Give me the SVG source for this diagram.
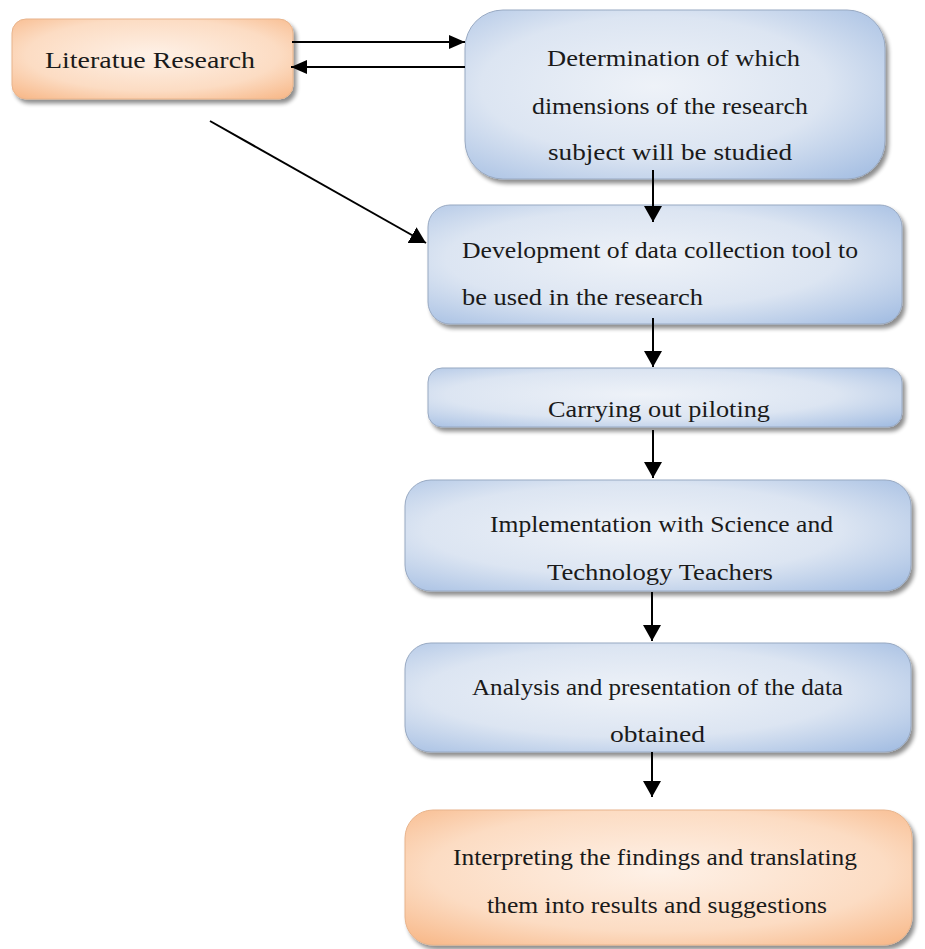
<svg xmlns="http://www.w3.org/2000/svg" width="925" height="949" viewBox="0 0 925 949">
<defs>
<radialGradient id="blue" cx="0.45" cy="0.45" r="0.75">
<stop offset="0" stop-color="#eef2f8"/>
<stop offset="0.55" stop-color="#dce5f2"/>
<stop offset="1" stop-color="#a3bde2"/>
</radialGradient>
<radialGradient id="orange" cx="0.5" cy="0.45" r="0.75">
<stop offset="0" stop-color="#fef1e7"/>
<stop offset="0.6" stop-color="#fcdcc3"/>
<stop offset="1" stop-color="#f7b482"/>
</radialGradient>
<filter id="sh" x="-5%" y="-10%" width="115%" height="130%">
<feGaussianBlur in="SourceAlpha" stdDeviation="2"/>
<feOffset dx="3" dy="4" result="b"/>
<feComponentTransfer><feFuncA type="linear" slope="0.45"/></feComponentTransfer>
<feMerge><feMergeNode/><feMergeNode in="SourceGraphic"/></feMerge>
</filter>
<marker id="ahb" viewBox="0 0 16 18" refX="16" refY="9" markerWidth="16" markerHeight="18" orient="auto" markerUnits="userSpaceOnUse">
<path d="M0,0 L16,9 L0,18 z" fill="#000"/>
</marker>
<marker id="ahs" viewBox="0 0 16 14" refX="16" refY="7" markerWidth="16" markerHeight="14" orient="auto" markerUnits="userSpaceOnUse">
<path d="M0,0 L16,7 L0,14 z" fill="#000"/>
</marker>
</defs>
<style>
.b{fill:url(#blue);stroke:#98a9c2;stroke-width:1;filter:url(#sh)}
.o{fill:url(#orange);stroke:#e8b48c;stroke-width:1;filter:url(#sh)}
text{font-family:"Liberation Serif","Times New Roman",serif;font-size:23px;fill:#1a1a1a}
.ln{stroke:#000;stroke-width:2;fill:none}
</style>
<rect width="925" height="949" fill="#ffffff"/>

<g id="n-literature">
<rect class="o" x="12" y="19" width="281" height="80" rx="14"/>
<text x="45" y="68" textLength="210" lengthAdjust="spacingAndGlyphs">Literatue Research</text>
</g>

<g id="n-determination">
<rect class="b" x="465" y="10" width="420" height="169" rx="38"/>
<text x="547" y="66" textLength="253" lengthAdjust="spacingAndGlyphs">Determination of which</text>
<text x="532" y="114" textLength="276" lengthAdjust="spacingAndGlyphs">dimensions of the research</text>
<text x="548" y="160" textLength="244" lengthAdjust="spacingAndGlyphs">subject will be studied</text>
</g>

<g id="n-development">
<rect class="b" x="428" y="205" width="474" height="119" rx="22"/>
<text x="462" y="258" textLength="396" lengthAdjust="spacingAndGlyphs">Development of data collection tool to</text>
<text x="462" y="305" textLength="241" lengthAdjust="spacingAndGlyphs">be used in the research</text>
</g>

<g id="n-piloting">
<rect class="b" x="428" y="368" width="474" height="59" rx="14"/>
<text x="548" y="417" textLength="222" lengthAdjust="spacingAndGlyphs">Carrying out piloting</text>
</g>

<g id="n-implementation">
<rect class="b" x="405" y="480" width="506" height="111" rx="26"/>
<text x="490" y="532" textLength="343" lengthAdjust="spacingAndGlyphs">Implementation with Science and</text>
<text x="547" y="580" textLength="226" lengthAdjust="spacingAndGlyphs">Technology Teachers</text>
</g>

<g id="n-analysis">
<rect class="b" x="405" y="643" width="506" height="109" rx="26"/>
<text x="472" y="695" textLength="371" lengthAdjust="spacingAndGlyphs">Analysis and presentation of the data</text>
<text x="610" y="742" textLength="95" lengthAdjust="spacingAndGlyphs">obtained</text>
</g>

<g id="n-interpreting">
<rect class="o" x="405" y="810" width="507" height="135" rx="28"/>
<text x="453" y="865" textLength="404" lengthAdjust="spacingAndGlyphs">Interpreting the findings and translating</text>
<text x="487" y="913" textLength="340" lengthAdjust="spacingAndGlyphs">them into results and suggestions</text>
</g>

<g id="connectors">
<line class="ln" x1="292" y1="42" x2="465" y2="42" marker-end="url(#ahs)"/>
<line class="ln" x1="465" y1="67" x2="291" y2="67" marker-end="url(#ahs)"/>
<line class="ln" x1="210" y1="121" x2="426" y2="243" marker-end="url(#ahb)"/>
<line class="ln" x1="653" y1="170" x2="653" y2="222" marker-end="url(#ahb)"/>
<line class="ln" x1="653" y1="318" x2="653" y2="367" marker-end="url(#ahb)"/>
<line class="ln" x1="653" y1="430" x2="653" y2="478" marker-end="url(#ahb)"/>
<line class="ln" x1="652" y1="592" x2="652" y2="641" marker-end="url(#ahb)"/>
<line class="ln" x1="652" y1="752" x2="652" y2="797" marker-end="url(#ahb)"/>
</g>
</svg>
